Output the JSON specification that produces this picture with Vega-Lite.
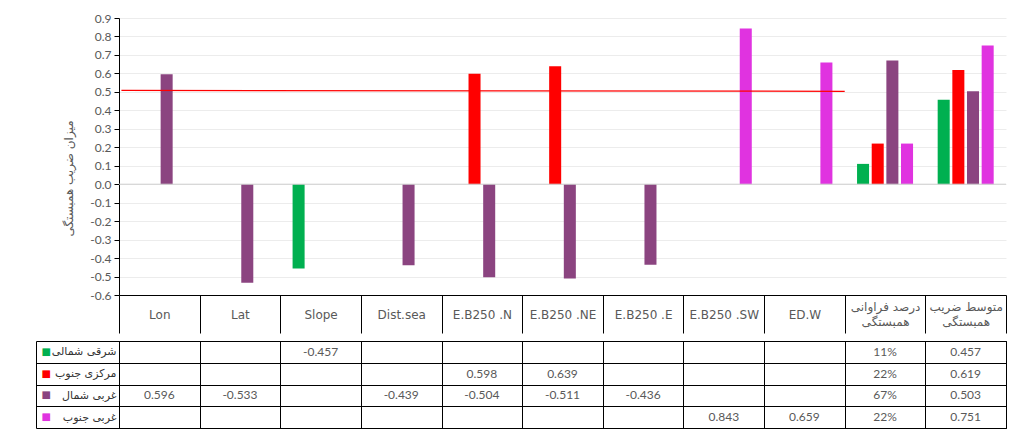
{
  "$schema": "https://vega.github.io/schema/vega-lite/v6.json",
  "background": "white",
  "padding": {"left": 35, "top": 12, "right": 0, "bottom": 0},
  "spacing": 0,
  "config": {
    "font": "Lato",
    "view": {"stroke": null},
    "axis": {"labelFont": "Lato", "titleFont": "DejaVu Sans"},
    "axisQuantitative": {
      "labelExpr": "replace(format(datum.value, '.1f'), '−', '-')",
      "labelOverlap": false,
      "labelFlush": false,
      "tickCount": 30,
      "domainColor": "#000000",
      "tickColor": "#000000",
      "tickSize": 5,
      "labelPadding": 3,
      "labelFontSize": 12,
      "labelColor": "#595959",
      "gridColor": "#ececec",
      "titleColor": "#595959",
      "titleFontSize": 12,
      "titleFontWeight": "normal",
      "titlePadding": 14,
      "titleY": 160
    }
  },
  "datasets": {
    "bars": [
      {"cat": "Lon", "zone": "غربی شمال", "value": 0.596, "text": "0.596"},
      {"cat": "Lat", "zone": "غربی شمال", "value": -0.533, "text": "-0.533"},
      {"cat": "Slope", "zone": "شرقی شمالی", "value": -0.457, "text": "-0.457"},
      {"cat": "Dist.sea", "zone": "غربی شمال", "value": -0.439, "text": "-0.439"},
      {"cat": "E.B250 .N", "zone": "مرکزی جنوب", "value": 0.598, "text": "0.598"},
      {"cat": "E.B250 .N", "zone": "غربی شمال", "value": -0.504, "text": "-0.504"},
      {"cat": "E.B250 .NE", "zone": "مرکزی جنوب", "value": 0.639, "text": "0.639"},
      {"cat": "E.B250 .NE", "zone": "غربی شمال", "value": -0.511, "text": "-0.511"},
      {"cat": "E.B250 .E", "zone": "غربی شمال", "value": -0.436, "text": "-0.436"},
      {"cat": "E.B250 .SW", "zone": "غربی جنوب", "value": 0.843, "text": "0.843"},
      {"cat": "ED.W", "zone": "غربی جنوب", "value": 0.659, "text": "0.659"},
      {"cat": "درصد فراوانی همبستگی", "zone": "شرقی شمالی", "value": 0.11, "text": "11%"},
      {"cat": "درصد فراوانی همبستگی", "zone": "مرکزی جنوب", "value": 0.22, "text": "22%"},
      {"cat": "درصد فراوانی همبستگی", "zone": "غربی شمال", "value": 0.67, "text": "67%"},
      {"cat": "درصد فراوانی همبستگی", "zone": "غربی جنوب", "value": 0.22, "text": "22%"},
      {"cat": "متوسط ضریب همبستگی", "zone": "شرقی شمالی", "value": 0.457, "text": "0.457"},
      {"cat": "متوسط ضریب همبستگی", "zone": "مرکزی جنوب", "value": 0.619, "text": "0.619"},
      {"cat": "متوسط ضریب همبستگی", "zone": "غربی شمال", "value": 0.503, "text": "0.503"},
      {"cat": "متوسط ضریب همبستگی", "zone": "غربی جنوب", "value": 0.751, "text": "0.751"}
    ],
    "redline": [
      {"pos": 0.03, "value": 0.508},
      {"pos": 9.0, "value": 0.503}
    ],
    "zeroline": [{"value": 0}],
    "zones": [
      {"zone": "شرقی شمالی"},
      {"zone": "مرکزی جنوب"},
      {"zone": "غربی شمال"},
      {"zone": "غربی جنوب"}
    ]
  },
  "vconcat": [
    {
      "width": 887,
      "height": 277,
      "layer": [
        {
          "data": {"name": "bars"},
          "mark": {"type": "bar"},
          "encoding": {
            "x": {
              "field": "cat",
              "type": "nominal",
              "scale": {
                "domain": ["Lon", "Lat", "Slope", "Dist.sea", "E.B250 .N", "E.B250 .NE", "E.B250 .E", "E.B250 .SW", "ED.W", "درصد فراوانی همبستگی", "متوسط ضریب همبستگی"],
                "paddingInner": 0,
                "paddingOuter": 0
              },
              "axis": {
                "orient": "bottom",
                "title": null,
                "domain": true,
                "domainColor": "#000000",
                "ticks": true,
                "tickColor": "#000000",
                "tickSize": 38,
                "tickBand": "extent",
                "grid": false,
                "minExtent": 38,
                "maxExtent": 38,
                "labelAngle": 0,
                "labelAlign": "center",
                "labelBaseline": {
                  "condition": {"test": "indexof(datum.label, 'همبستگی') > 0", "value": "line-bottom"},
                  "value": "middle"
                },
                "labelPadding": -19,
                "labelFontSize": 12,
                "labelColor": "#595959",
                "labelLineHeight": 15,
                "labelOverlap": false,
                "labelFont": "DejaVu Sans, Lato",
                "labelExpr": "indexof(datum.label, 'همبستگی') > 0 ? [replace(datum.label, ' همبستگی', ''), 'همبستگی'] : datum.label"
              }
            },
            "xOffset": {
              "field": "zone",
              "scale": {
                "domain": ["شرقی شمالی", "مرکزی جنوب", "غربی شمال", "غربی جنوب"],
                "paddingInner": 0.18,
                "paddingOuter": 0.84
              }
            },
            "y": {
              "field": "value",
              "type": "quantitative",
              "title": "میزان ضریب همبستگی",
              "scale": {"domain": [-0.6, 0.9], "nice": false, "zero": false},
              "axis": {
                "values": [-0.6, -0.5, -0.4, -0.3, -0.2, -0.1, 0, 0.1, 0.2, 0.3, 0.4, 0.5, 0.6, 0.7, 0.8, 0.9],
                "tickCount": 30,
                "labelOverlap": false
              }
            },
            "color": {
              "field": "zone",
              "scale": {
                "domain": ["شرقی شمالی", "مرکزی جنوب", "غربی شمال", "غربی جنوب"],
                "range": ["#00b050", "#ff0000", "#8b4480", "#e033e0"]
              },
              "legend": null
            }
          }
        },
        {
          "data": {"name": "zeroline"},
          "mark": {"type": "rule", "color": "#d0d0d0", "strokeWidth": 1},
          "encoding": {
            "y": {"field": "value", "type": "quantitative", "title": "میزان ضریب همبستگی"}
          }
        },
        {
          "data": {"name": "redline"},
          "mark": {"type": "line", "color": "#ff0000", "strokeWidth": 1.3},
          "encoding": {
            "x": {"field": "pos", "type": "quantitative", "scale": {"domain": [0, 11], "nice": false, "zero": false}, "axis": null},
            "y": {"field": "value", "type": "quantitative", "title": "میزان ضریب همبستگی"}
          }
        }
      ],
      "resolve": {"scale": {"x": "independent"}}
    },
    {
      "width": 887,
      "height": 87,
      "view": {"stroke": "#000000"},
      "layer": [
        {
          "data": {"name": "bars"},
          "mark": {"type": "text", "fontSize": 12, "color": "#595959", "font": "Lato"},
          "encoding": {
            "x": {
              "field": "cat",
              "type": "nominal",
              "scale": {
                "domain": ["Lon", "Lat", "Slope", "Dist.sea", "E.B250 .N", "E.B250 .NE", "E.B250 .E", "E.B250 .SW", "ED.W", "درصد فراوانی همبستگی", "متوسط ضریب همبستگی"],
                "paddingInner": 0,
                "paddingOuter": 0
              },
              "axis": {
                "orient": "top",
                "title": null,
                "labels": false,
                "ticks": false,
                "domain": false,
                "grid": true,
                "gridColor": "#000000",
                "gridOpacity": 1,
                "tickBand": "extent",
                "minExtent": 0,
                "maxExtent": 0
              }
            },
            "y": {
              "field": "zone",
              "type": "nominal",
              "scale": {
                "domain": ["شرقی شمالی", "مرکزی جنوب", "غربی شمال", "غربی جنوب"],
                "paddingInner": 0,
                "paddingOuter": 0
              },
              "axis": {
                "title": null,
                "domain": true,
                "domainColor": "#000000",
                "ticks": true,
                "tickColor": "#000000",
                "tickSize": 83,
                "tickBand": "extent",
                "grid": true,
                "gridColor": "#000000",
                "gridOpacity": 1,
                "labelPadding": -80,
                "labelFont": "DejaVu Sans",
                "labelFontSize": 11,
                "labelColor": "#333333"
              }
            },
            "text": {"field": "text"}
          }
        },
        {
          "data": {"name": "zones"},
          "mark": {"type": "text", "text": ""},
          "encoding": {
            "y": {
              "field": "zone",
              "type": "nominal",
              "axis": {
                "orient": "left",
                "offset": 83,
                "title": null,
                "domain": true,
                "domainColor": "#000000",
                "ticks": false,
                "grid": false,
                "labelExpr": "'■'",
                "labelAlign": "left",
                "labelPadding": -5,
                "labelFontSize": 10,
                "labelFont": "DejaVu Sans",
                "labelColor": {
                  "condition": [
                    {"test": "datum.value === 'شرقی شمالی'", "value": "#00b050"},
                    {"test": "datum.value === 'مرکزی جنوب'", "value": "#ff0000"},
                    {"test": "datum.value === 'غربی شمال'", "value": "#8b4480"}
                  ],
                  "value": "#e033e0"
                }
              }
            }
          }
        }
      ],
      "resolve": {"axis": {"y": "independent"}}
    }
  ]
}
